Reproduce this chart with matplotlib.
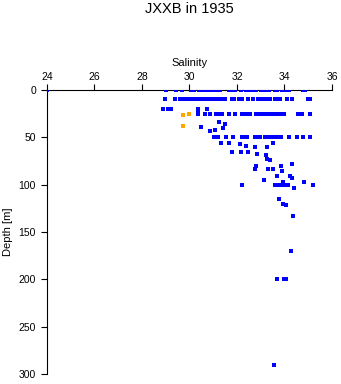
import matplotlib
matplotlib.use('Agg')
import matplotlib.pyplot as plt

# depth rows where many samples sit (salinity readings)
sal_0m = [24.0, 29.0, 29.45, 29.70, 30.08, 30.2, 30.4, 30.5, 30.6, 30.7, 30.8, 30.9,
          31.0, 31.1, 31.2, 31.3, 31.67, 31.78, 31.9, 32.16, 32.4, 32.5, 32.6, 32.7,
          32.8, 33.03, 33.13, 33.23, 33.33, 33.6, 33.68, 33.9, 34.03, 34.2, 34.8, 34.87]
sal_10m = [28.97, 29.37, 29.58, 29.74, 29.9, 30.0, 30.1, 30.2, 30.3, 30.4, 30.5, 30.6,
           30.7, 30.85, 30.95, 31.05, 31.15, 31.22, 31.37, 31.5, 31.77, 31.88, 32.1,
           32.2, 32.47, 32.67, 32.9, 33.0, 33.1, 33.2, 33.3, 33.4, 33.6, 33.7, 33.82,
           34.09, 34.31, 34.99, 35.06]
sal_20m = [28.9, 29.11, 29.22, 30.37, 30.75]
sal_25m = [30.37, 30.65, 30.86, 31.1, 31.2, 31.3, 31.38, 31.68, 31.92, 32.23, 32.35,
           32.45, 32.53, 32.82, 32.92, 33.02, 33.12, 33.22, 33.33, 33.5, 33.6, 33.7,
           33.8, 33.9, 33.99, 34.56, 34.74, 35.09]
sal_50m = [31.03, 31.19, 31.55, 31.85, 32.2, 32.3, 32.43, 32.76, 32.9, 32.96, 33.17,
           33.27, 33.37, 33.47, 33.57, 33.67, 33.77, 33.85, 34.2, 34.51, 34.77, 35.09]

# single samples
sal_other = [30.37, 31.25, 31.49, 30.48, 31.41, 31.09, 30.88, 31.31, 31.65, 33.53,
             32.14, 32.37, 32.76, 33.28, 31.80, 32.17, 32.48, 32.86, 33.24, 33.25,
             33.39, 34.30, 32.80, 33.87, 32.75, 33.32, 33.53, 33.91, 33.70, 34.23,
             34.33, 33.15, 33.95, 34.82, 32.20, 33.58, 33.7, 33.82, 33.95, 34.05,
             34.15, 34.41, 35.21, 33.78, 33.95, 34.06, 34.37, 34.29, 33.70, 33.97,
             34.05, 33.57]
dep_other = [23, 34, 36, 39, 40, 42.5, 43.5, 55.5, 55.5, 55.5,
             57, 59, 60.5, 60.5, 66, 66, 66, 68, 68.5, 73,
             74, 78.5, 80.5, 80.5, 83.5, 83.5, 83.5, 86, 90.5, 90.5,
             92.5, 95.5, 97, 97.5, 100, 100, 100, 100, 100, 100,
             100, 103.5, 100.5, 115.5, 120.5, 121.5, 133.5, 170.5, 200, 200,
             200, 290]

# orange samples
sal_orange = [29.71, 30.0, 29.74]
dep_orange = [26, 25, 38]

blue_sal = sal_0m + sal_10m + sal_20m + sal_25m + sal_50m + sal_other
blue_dep = ([0] * len(sal_0m) + [10] * len(sal_10m) + [20] * len(sal_20m)
            + [25] * len(sal_25m) + [50] * len(sal_50m) + dep_other)

plt.rcParams['font.family'] = ['Liberation Sans', 'DejaVu Sans']

fig = plt.figure(figsize=(3.41, 3.84), dpi=100)
ax = fig.add_axes([0.1378, 0.026, 0.8358, 0.7396])

ax.plot(blue_sal, blue_dep, 's', color='#0000ff', markersize=2.2, markeredgewidth=0, zorder=3)
ax.plot(sal_orange, dep_orange, 's', color='orange', markersize=2.2, markeredgewidth=0, zorder=3)

ax.set_xlim(24, 36)
ax.set_ylim(300, 0)
ax.set_xticks([24, 26, 28, 30, 32, 34, 36])
ax.set_yticks([0, 50, 100, 150, 200, 250, 300])
ax.xaxis.tick_top()
ax.xaxis.set_label_position('top')
ax.tick_params(axis='both', labelsize=7.5, length=4, width=0.8, direction='out')
ax.tick_params(axis='x', pad=2)
ax.tick_params(axis='y', pad=4)
ax.spines['right'].set_visible(False)
ax.spines['bottom'].set_visible(False)
ax.spines['top'].set_linewidth(0.8)
ax.spines['left'].set_linewidth(0.8)
ax.set_xlabel('Salinity', fontsize=8, labelpad=4)
ax.set_ylabel('Depth [m]', fontsize=8, labelpad=4)

fig.text(0.556, 0.977, 'JXXB in 1935', ha='center', va='center', fontsize=10.5)

plt.savefig('out.png', dpi=100)
